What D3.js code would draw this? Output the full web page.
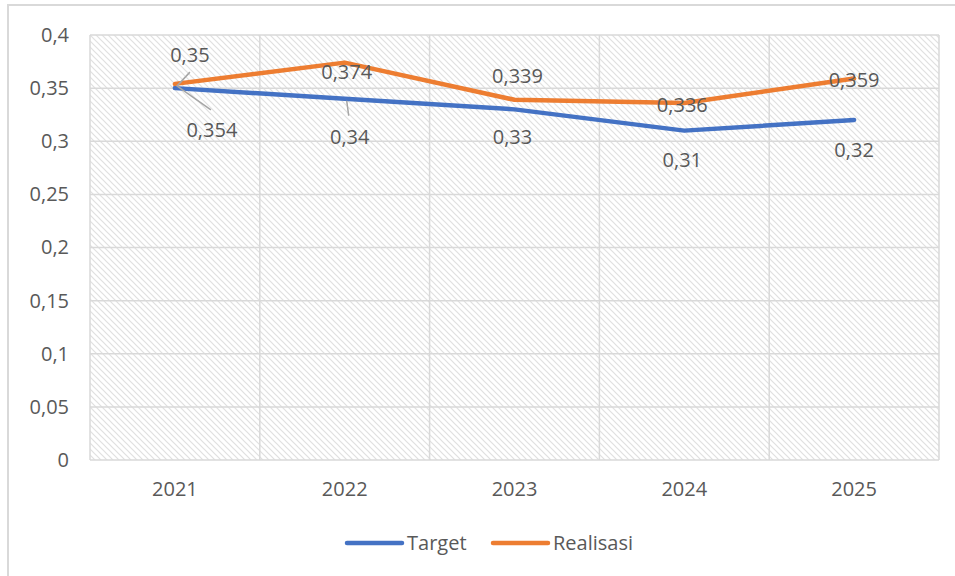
<!DOCTYPE html>
<html>
<head>
<meta charset="utf-8">
<script src="https://cdn.jsdelivr.net/npm/d3@7"></script>
<style>
  body { margin: 0; background: #fff; }
  svg text { font-family: "Open Sans", sans-serif; fill: #595959; }
</style>
</head>
<body>
<div class="graph"></div>
<script>
// 데이터
const years = ['2021', '2022', '2023', '2024', '2025'];
const target = [0.35, 0.34, 0.33, 0.31, 0.32];
const realisasi = [0.354, 0.374, 0.339, 0.336, 0.359];
const yTicks = [0, 0.05, 0.1, 0.15, 0.2, 0.25, 0.3, 0.35, 0.4];

// 라벨 위치 보정 (Excel 수동 배치)
const targetLabelShift = [[15, -33], [5, 38], [-2, 28], [-2, 29], [0, 30]];
const realLabelShift = [[37, 46], [2, 9], [3, -24], [-2, 2], [0, 1]];
// 지시선: [series, index, dx, dy]
const leaders = [['t', 0, 15, -16], ['r', 0, 36, 26], ['t', 1, 4, 17]];

const width = 955, height = 576;
const [mt, mb, ml, mr] = [35, 116, 90, 16];
const graphWidth = width - ml - mr;
const graphHeight = height - mt - mb;

const blue = '#4472C4', orange = '#ED7D31', gridColor = '#d9d9d9';
const fontSize = 20;
const fmt = v => String(v).replace('.', ',');

const svg = d3.select('.graph').append('svg')
  .attr('width', width)
  .attr('height', height);

// 빗금 패턴
const pat = svg.append('defs').append('pattern')
  .attr('id', 'hatch')
  .attr('patternUnits', 'userSpaceOnUse')
  .attr('width', 6).attr('height', 6);
pat.append('rect').attr('width', 6).attr('height', 6).attr('fill', '#fff');
pat.append('path')
  .attr('d', 'M-1,-1 L7,7 M-1,5 L1,7 M5,-1 L7,1')
  .attr('stroke', '#e0e0e0').attr('stroke-width', 1.2);

// 바깥 테두리
svg.append('path')
  .attr('d', `M8,${height} L8,5 L${width},5`)
  .attr('fill', 'none').attr('stroke', gridColor).attr('stroke-width', 2);

const graph = svg.append('g').attr('transform', `translate(${ml}, ${mt})`);

const x = d3.scaleBand().domain(years).range([0, graphWidth]);
const y = d3.scaleLinear().domain([0, 0.4]).range([graphHeight, 0]);
const cx = d => x(d) + x.bandwidth() / 2;

graph.append('rect')
  .attr('width', graphWidth).attr('height', graphHeight)
  .attr('fill', 'url(#hatch)');

// 격자선
graph.selectAll('.hgrid').data(yTicks).join('line')
  .attr('x1', 0).attr('x2', graphWidth)
  .attr('y1', d => y(d)).attr('y2', d => y(d))
  .attr('stroke', gridColor).attr('stroke-width', 1.5);
graph.selectAll('.vgrid').data(d3.range(years.length + 1)).join('line')
  .attr('x1', i => i * x.step()).attr('x2', i => i * x.step())
  .attr('y1', 0).attr('y2', graphHeight)
  .attr('stroke', gridColor).attr('stroke-width', 1.5);

// 축
const yAxisG = graph.append('g')
  .call(d3.axisLeft(y).tickValues(yTicks).tickFormat(fmt).tickSize(0).tickPadding(21));
const xAxisG = graph.append('g').attr('transform', `translate(0, ${graphHeight})`)
  .call(d3.axisBottom(x).tickSize(0).tickPadding(22));
[yAxisG, xAxisG].forEach(g => {
  g.select('.domain').remove();
  g.selectAll('text').attr('font-size', fontSize).attr('fill', '#595959')
    .style('font-family', '"Open Sans", sans-serif');
});

// 선
const line = d3.line().x((d, i) => cx(years[i])).y(d => y(d));
[[target, blue], [realisasi, orange]].forEach(([data, color]) => {
  graph.append('path').datum(data)
    .attr('d', line)
    .attr('fill', 'none')
    .attr('stroke', color)
    .attr('stroke-width', 4.5)
    .attr('stroke-linejoin', 'round')
    .attr('stroke-linecap', 'round');
});

// 지시선
graph.selectAll('.leader').data(leaders).join('line')
  .attr('x1', d => cx(years[d[1]]) + Math.sign(d[2]) * 2)
  .attr('y1', d => y((d[0] === 't' ? target : realisasi)[d[1]]) + Math.sign(d[3]) * 2)
  .attr('x2', d => cx(years[d[1]]) + d[2])
  .attr('y2', d => y((d[0] === 't' ? target : realisasi)[d[1]]) + d[3])
  .attr('stroke', '#a6a6a6').attr('stroke-width', 1.5);

// 데이터 라벨
[[target, targetLabelShift], [realisasi, realLabelShift]].forEach(([data, shift]) => {
  graph.append('g').selectAll('text').data(data).join('text')
    .attr('x', (d, i) => cx(years[i]) + shift[i][0])
    .attr('y', (d, i) => y(d) + shift[i][1])
    .attr('dy', '0.35em')
    .attr('text-anchor', 'middle')
    .attr('font-size', fontSize)
    .text(d => fmt(d));
});

// 범례
const legendItems = [['Target', blue, 347], ['Realisasi', orange, 493]];
const legend = svg.selectAll('.legend').data(legendItems).join('g')
  .attr('transform', d => `translate(${d[2]}, 543)`);
legend.append('line')
  .attr('x1', 0).attr('x2', 55)
  .attr('stroke', d => d[1]).attr('stroke-width', 4.5).attr('stroke-linecap', 'round');
legend.append('text')
  .attr('x', 60).attr('dy', '0.35em')
  .attr('font-size', fontSize)
  .text(d => d[0]);
</script>
</body>
</html>
